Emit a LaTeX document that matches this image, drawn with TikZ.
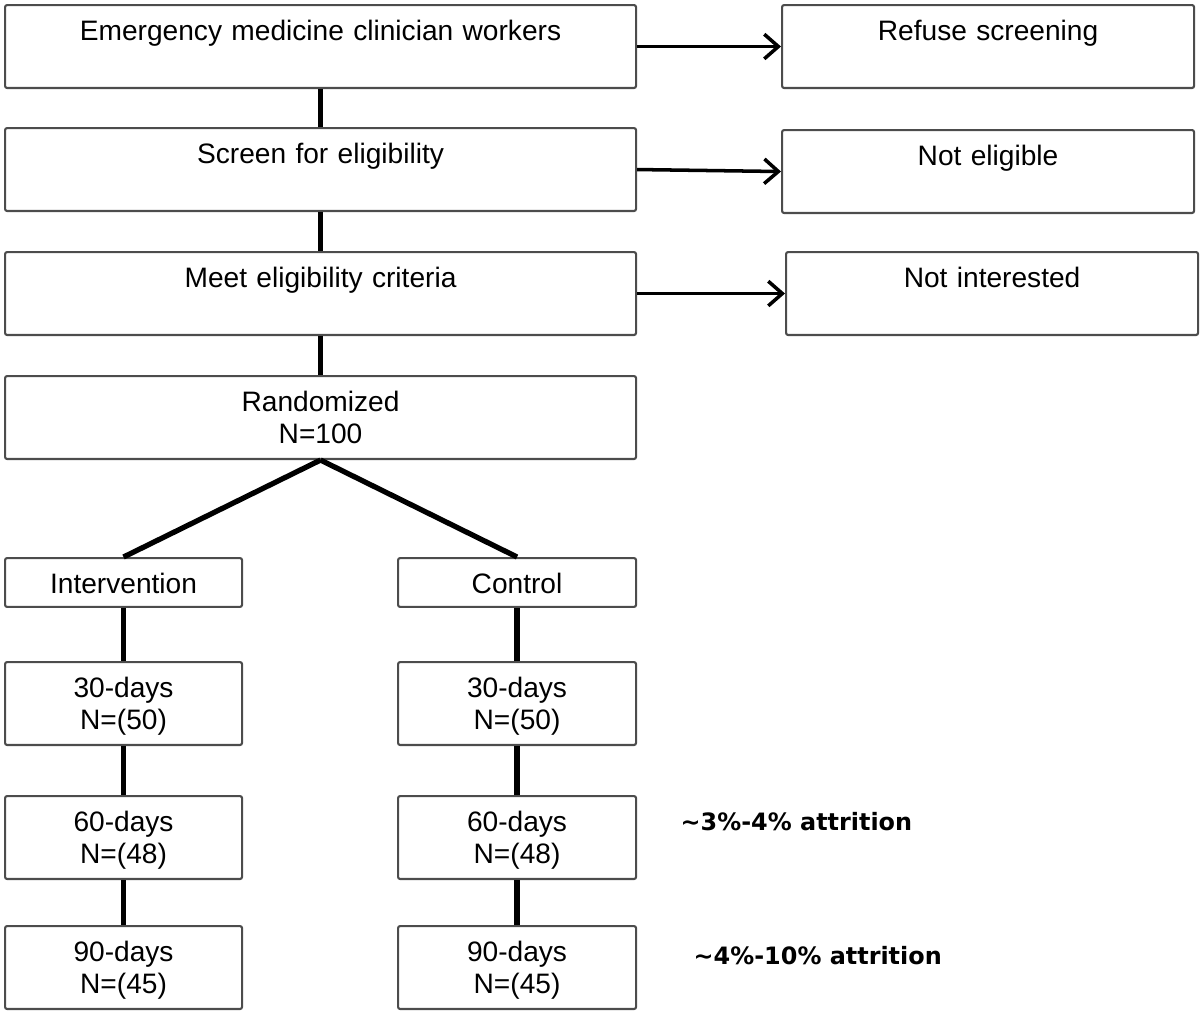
\documentclass[tikz,border=0pt]{standalone}
\usepackage{fontspec}
\setmainfont{Liberation Sans}
\newfontfamily\attrfont{DejaVu Sans}
\usetikzlibrary{arrows.meta}

\tikzset{
    box/.style={draw=black!70, line width=0.6pt, rounded corners=0.6pt, inner sep=0pt,
        anchor=north west, align=center, font=\fontsize{8}{9.1}\selectfont, text height=10.2pt},
    tallbox/.style={box, text depth=13.4pt},
    flatbox/.style={box, text depth=3.7pt},
    link/.style={line width=1.5pt},
    feed/.style={line width=1pt, -{Straight Barb[length=4pt,width=7pt]}},
    note/.style={font=\attrfont\bfseries\fontsize{6.8}{8}\selectfont, anchor=west, inner sep=0pt},
}

\begin{document}
\begin{tikzpicture}[x=0.1mm, y=-0.1mm]
                \useasboundingbox (0,0) rectangle (1200,1012);
                % enrolment column
                \node[tallbox, text width=63.1mm] (workers) at (4,4) {Emergency medicine clinician workers};
                \node[tallbox, text width=63.1mm] (screen) at (4,127) {Screen for eligibility};
                \node[tallbox, text width=63.1mm] (eligible) at (4,251) {Meet eligibility criteria};
                \node[tallbox, text width=63.1mm] (random) at (4,375) {Randomized\\N=100};
                % drop-outs
                \node[tallbox, text width=41.2mm] (refuse) at (781,4) {Refuse screening};
                \node[tallbox, text width=41.2mm] (noteligible) at (781,129) {Not eligible};
                \node[tallbox, text width=41.2mm] (notinterested) at (785,251) {Not interested};
                \draw[link] (workers) -- (screen);
                \draw[link] (screen) -- (eligible);
                \draw[link] (eligible) -- (random);
                \draw[feed] (workers.east) -- (refuse.west);
                \draw[feed] (screen.east) -- (noteligible.west);
                \draw[feed] (eligible.east) -- (notinterested.west);
                % arms
                \node[flatbox, text width=23.7mm] (interv) at (4,557) {Intervention};
                \node[flatbox, text width=23.8mm] (control) at (397,557) {Control};
                \draw[link] (random.south) -- (interv.north);
                \draw[link] (random.south) -- (control.north);
                \foreach \d/\n/\y in {30/50/661, 60/48/795, 90/45/925}{
                    \node[tallbox, text width=23.7mm] (i\d) at (4,\y) {\d-days\\N=(\n)};
                    \node[tallbox, text width=23.8mm] (c\d) at (397,\y) {\d-days\\N=(\n)};
                }
                \draw[link] (interv) -- (i30) -- (i60) -- (i90);
                \draw[link] (control) -- (c30) -- (c60) -- (c90);
                \node[note] (att60) at (680,822) {\textasciitilde3\%-4\% attrition};
                \node[note] (att90) at (693,956) {\textasciitilde4\%-10\% attrition};
            \end{tikzpicture}
\end{document}
